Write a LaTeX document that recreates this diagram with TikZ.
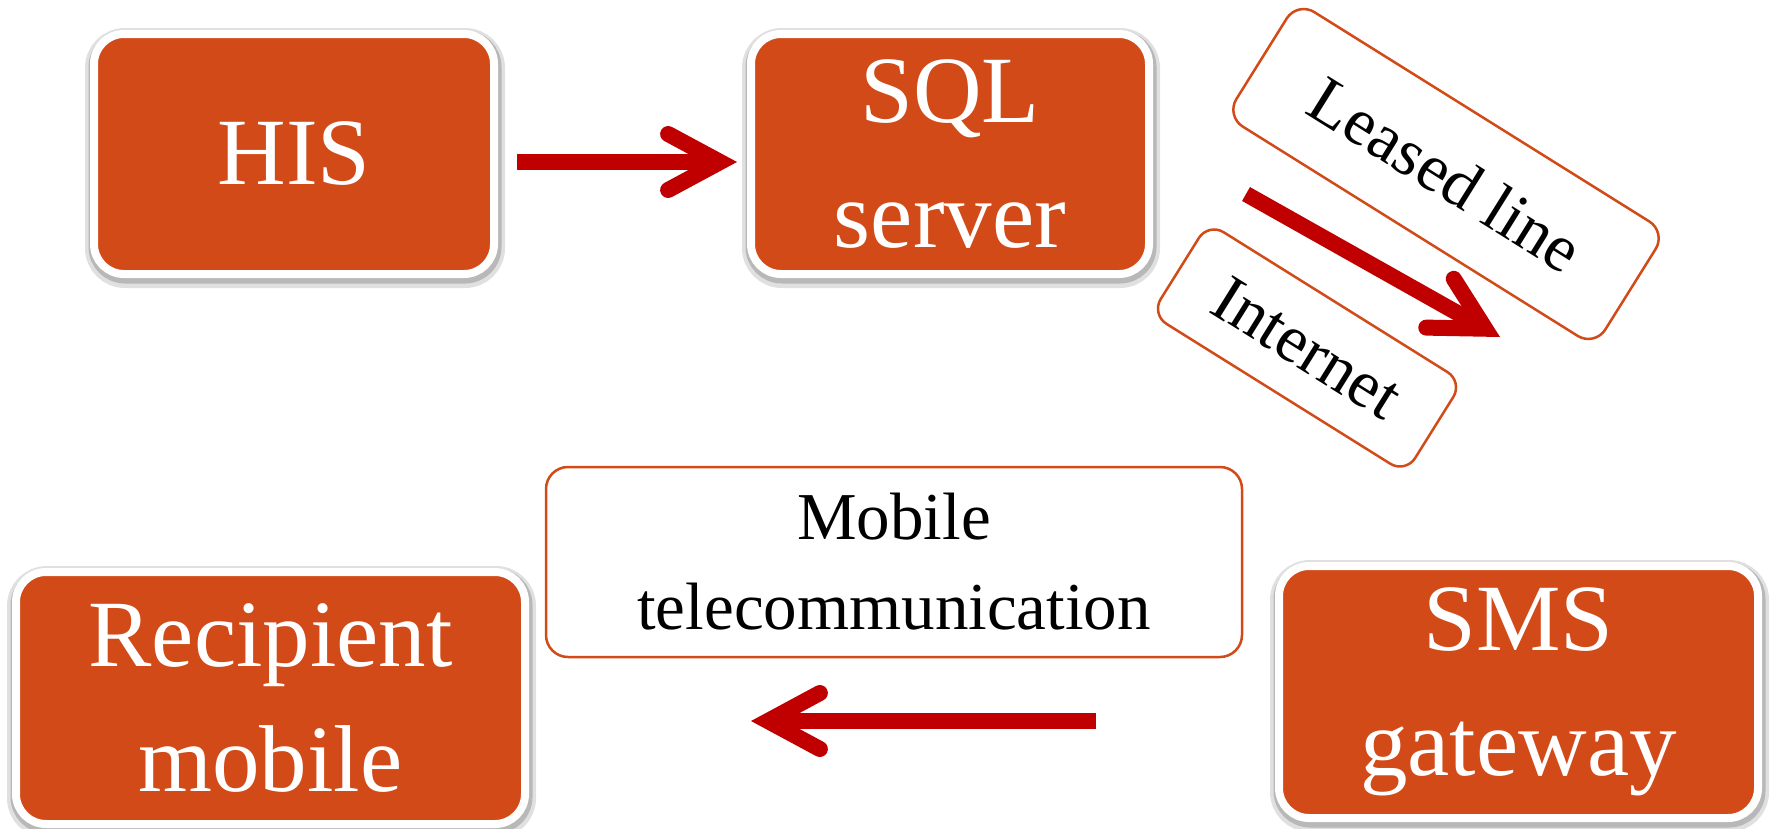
\documentclass[tikz,border=0pt]{standalone}
\usepackage{fontspec}
\setmainfont{Liberation Serif}
\usetikzlibrary{arrows.meta}
\definecolor{boxorange}{HTML}{D14A18}
\definecolor{arrred}{HTML}{C00000}
\begin{document}
\begin{tikzpicture}[x=1pt,y=-1pt,
  mainbox/.style={fill=boxorange, draw=white, line width=8pt, rounded corners=30pt, outer sep=0pt,
    text=white, align=center, font=\fontsize{95}{125}\selectfont, inner sep=0pt,
    preaction={draw=black!12, line width=20pt, transform canvas={xshift=1pt,yshift=-4pt}},
    preaction={draw=black!28, line width=13pt, transform canvas={xshift=1pt,yshift=-3pt}}},
  medbox/.style={fill=white, draw=boxorange, line width=2.5pt, rounded corners=22pt, outer sep=0pt,
    text=black, align=center, font=\fontsize{67}{90}\selectfont, inner sep=0pt},
  arr/.style={draw=arrred, line width=16pt,
    -{Straight Barb[length=52pt,width=56pt,line cap=round,line join=miter]}}
]
\useasboundingbox[fill=white] (0,0) rectangle (1771,828);

\node[mainbox, minimum width=400pt, minimum height=240pt] (his) at (294,154) {HIS};
\node[mainbox, minimum width=398pt, minimum height=240pt] (sql) at (950,154) {SQL\\server};
\node[mainbox, minimum width=509pt, minimum height=252pt] (recip) at (270.5,698) {Recipient\\mobile};
\node[mainbox, minimum width=479pt, minimum height=252pt] (sms) at (1518.5,692) {SMS\\gateway};

\node[medbox, minimum width=696pt, minimum height=190pt] (mobile) at (894,562) {Mobile\\telecommunication};
\node[medbox, rotate=-32, minimum width=435pt, minimum height=135pt, rounded corners=20pt] (leased) at (1446,174) {Leased line};
\node[medbox, rotate=-32, minimum width=300pt, minimum height=108pt, rounded corners=18pt] (internet) at (1307,348) {Internet};

\draw[arr] ([xshift=23pt,yshift=-8pt]his.east) -- ([xshift=-14pt,yshift=-8pt]sql.west);
\draw[arr] ([xshift=-183pt,yshift=-29pt]sms.west) -- ([xshift=226pt,yshift=-23pt]recip.east);
\draw[arr] ([xshift=97pt,yshift=-40pt]sql.east) -- ([xshift=54pt,yshift=-163pt]leased.center);
\end{tikzpicture}
\end{document}
